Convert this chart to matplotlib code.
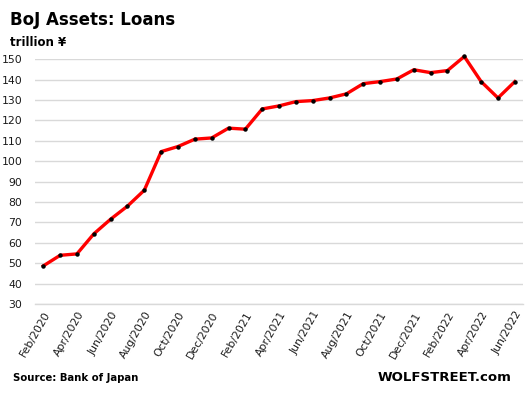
import matplotlib.pyplot as plt
import pandas as pd

months = pd.date_range("2020-02-01", "2022-06-01", freq="MS")
loans = [48.7, 53.9, 54.6, 64.4, 71.6, 78.0, 85.8, 104.7, 107.2, 110.8, 111.4,
         116.2, 115.7, 125.6, 127.1, 129.2, 129.7, 131.0, 133.0, 138.0, 139.0,
         140.3, 144.8, 143.4, 144.4, 151.3, 139.0, 131.0, 139.0]
labels = [m.strftime("%b/%Y") for m in months]

fig = plt.figure(figsize=(5.28, 3.97), dpi=100)
ax = fig.add_axes([0.066, 0.234, 0.925, 0.617])

x = range(len(loans))
ax.plot(x, loans, color="#ff0000", lw=2.4, zorder=3, clip_on=False)
ax.plot(x, loans, "o", color="black", ms=2.2, zorder=4, clip_on=False)

ax.set_ylim(30, 150)
ax.set_yticks(range(30, 151, 10))
ax.set_xlim(-0.5, len(loans) - 0.5)
ax.set_xticks(list(x)[::2])
ax.set_xticklabels(labels[::2], rotation=60, ha="right", rotation_mode="anchor")
ax.tick_params(length=0, labelsize=7.8, colors="#1a1a1a")
ax.tick_params(axis="x", pad=4)
ax.tick_params(axis="y", pad=9)
ax.grid(axis="y", color="#d9d9d9", lw=1)
ax.axhline(30, color="#d9d9d9", lw=1, clip_on=False, zorder=1)
ax.set_axisbelow(True)
for s in ax.spines.values():
    s.set_visible(False)

fig.text(0.019, 0.95, "BoJ Assets: Loans", fontsize=12, fontweight="bold", va="center")
fig.text(0.019, 0.893, "trillion ¥", fontsize=8.5, fontweight="bold", va="center")
fig.text(0.024, 0.048, "Source: Bank of Japan", fontsize=7.3, fontweight="bold", va="center")
fig.text(0.968, 0.048, "WOLFSTREET.com", fontsize=9.5, fontweight="bold", va="center", ha="right")

fig.savefig("out.png", dpi=100)
